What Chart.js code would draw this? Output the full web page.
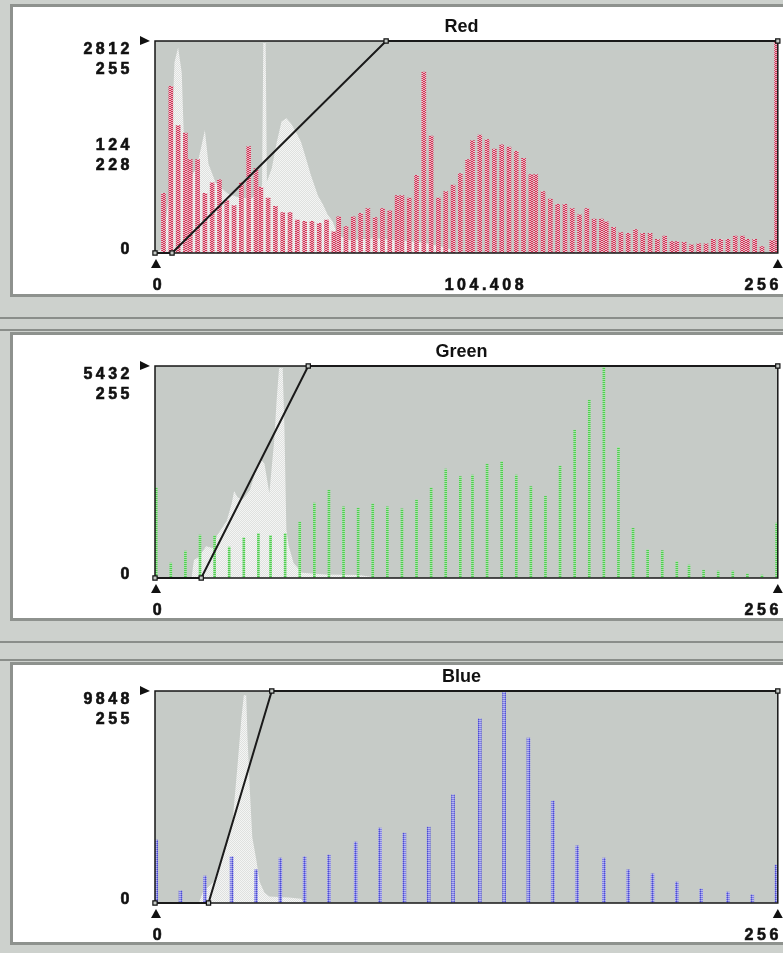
<!DOCTYPE html>
<html>
<head>
<meta charset="utf-8">
<script src="https://cdn.jsdelivr.net/npm/chart.js@4.4.1/dist/chart.umd.min.js"></script>
<style>
  html, body { margin: 0; padding: 0; }
  body { width: 783px; height: 953px; background: #cdd1cd; position: relative; overflow: hidden; }
  .panel { position: absolute; left: 10px; width: 820px; background: #fff; border: 3px solid #8e928e; border-right: none; box-sizing: border-box; }
  .rule { position: absolute; left: 0; width: 783px; height: 2px; background: #8a8e8a; }
  canvas { position: absolute; left: 0; }
</style>
</head>
<body>
<div class="panel" style="top:4px;height:293px"></div>
<div class="rule" style="top:317px"></div>
<div class="rule" style="top:329px"></div>
<div class="panel" style="top:332px;height:289px"></div>
<div class="rule" style="top:641px"></div>
<div class="rule" style="top:659px"></div>
<div class="panel" style="top:662px;height:283px"></div>

<canvas id="red" width="783" height="300" style="top:0"></canvas>
<canvas id="green" width="783" height="290" style="top:330px"></canvas>
<canvas id="blue" width="783" height="298" style="top:655px"></canvas>

<script>
// intensity axis 0..256
const axisLabels = ["0", "256"];

// red channel
const redLevels = [3,6,9,12,14,17,20,23,26,29,32,35,38,41,43,46,49,52,55,58,61,64,67,70,73,75,78,81,84,87,90,93,96,99,101,104,107,110,113,116,119,122,125,128,130,133,136,139,142,145,148,151,154,156,159,162,165,168,171,174,177,180,183,185,188,191,194,197,200,203,206,209,212,214,217,220,223,226,229,232,235,238,241,243,246,249,253,255];
const redCounts = [790,2210,1690,1590,1240,1240,790,930,970,700,630,930,1410,1120,870,730,620,535,535,435,420,420,395,435,280,480,350,480,525,590,470,590,560,760,760,730,1030,2400,1550,730,815,900,1055,1240,1490,1565,1505,1380,1435,1405,1350,1255,1040,1040,815,715,645,645,590,505,590,450,450,415,340,270,260,310,260,260,180,225,150,150,140,110,120,120,180,180,180,225,225,180,180,85,165,2812];
const redGrayLevels = [0,3,6,8,9.5,11,12,14,17,19,20.5,22,25,30,35,40,43,44,44.5,45.5,46,48,50,52,54,56,58,60,62,64,67,69,71,73,75,80,90,100,110,118,125,126];
const redGrayCounts = [0,56,844,2530,2728,2390,1406,984,1125,1406,1630,1180,928,787,731,731,844,900,2784,2784,950,1125,1462,1743,1786,1715,1603,1476,1265,1040,760,647,506,422,240,170,197,170,140,84,14,0];
const redCurveIn = [0, 7, 95, 256];
const redCurveOut = [0, 0, 255, 255];
const redTopLabels = ["2812", "255"];
const redMidLabels = ["124", "228"];
const redMean = "104.408";

// green channel
const greenLevels = [0,6,12,18,24,30,36,42,47,53,59,65,71,77,83,89,95,101,107,113,119,125,130,136,142,148,154,160,166,172,178,184,190,196,202,208,214,219,225,231,237,243,249,255];
const greenCounts = [2310,380,690,1100,1090,790,1030,1140,1090,1140,1430,1920,2250,1825,1790,1900,1825,1770,2000,2310,2790,2600,2640,2920,2980,2640,2340,2090,2870,3790,4560,5432,3350,1270,720,700,420,330,205,180,180,105,75,1410];
const greenGrayLevels = [15,16,18,21,24,25.5,29.5,31.5,32.5,34,36,39,41.5,43.5,45,47,49,50,51,52.5,53.2,54,55,57,60.5,70,84,88,92];
const greenGrayCounts = [0,460,540,815,760,1090,1470,1900,2230,2060,2010,2250,2770,3040,2930,2170,3530,4560,5380,5380,3860,1250,815,380,136,90,76,40,0];
const greenCurveIn = [0, 19, 63, 256];
const greenCurveOut = [0, 0, 255, 255];
const greenTopLabels = ["5432", "255"];

// blue channel
const blueLevels = [0,10,20,31,41,51,61,71,82,92,102,112,122,133,143,153,163,173,184,194,204,214,224,235,245,255];
const blueCounts = [2925,560,1250,2140,1540,2090,2140,2225,2835,3485,3250,3525,5020,8550,9848,7660,4740,2650,2090,1540,1350,975,650,510,375,1760];
const blueGrayLevels = [18,19.6,24,27,29.4,32,34,35.5,36.5,37.5,38,39,40,41.7,43,45,47,55,60,61.5];
const blueGrayCounts = [0,490,980,1970,2660,3940,6500,8570,9650,9650,7780,5220,3050,1970,985,490,300,250,200,0];
const blueCurveIn = [0, 22, 48, 256];
const blueCurveOut = [0, 0, 255, 255];
const blueTopLabels = ["9848", "255"];

// small tiled fills for the dotted look of the bars
function dotPattern(rows) {
  const c = document.createElement("canvas");
  c.width = rows[0].length;
  c.height = rows.length;
  const g = c.getContext("2d");
  rows.forEach((row, j) => row.forEach((col, i) => {
    g.fillStyle = col;
    g.fillRect(i, j, 1, 1);
  }));
  return g.createPattern(c, "repeat");
}

const grayFill = dotPattern([["#f4f5f4", "#dfe1df"], ["#dfe1df", "#f4f5f4"]]);
const redFill = dotPattern([["#eab0bd", "#d03356", "#d03356", "#eab0bd"], ["#d03356", "#f0c8d1", "#f0c8d1", "#d03356"]]);
const greenFill = dotPattern([["#4fcd4f"], ["#a8e6a8"]]);
const blueFill = dotPattern([["#8080e4", "#4c4cd2", "#8080e4"], ["#b8b8ee", "#8080e4", "#b8b8ee"]]);

const zip = (xs, ys) => xs.map((x, i) => ({ x: x, y: ys[i] }));

function triangle(ctx, pts) {
  ctx.beginPath();
  ctx.moveTo(pts[0][0], pts[0][1]);
  ctx.lineTo(pts[1][0], pts[1][1]);
  ctx.lineTo(pts[2][0], pts[2][1]);
  ctx.closePath();
  ctx.fill();
}

// heavy text: fill plus a thin stroke so the digits look like the bitmap font
function boldText(ctx, s, x, y) {
  ctx.fillText(s, x, y);
  ctx.strokeText(s, x, y);
}

// panel decoration: plot background, frame, readouts, markers, title
function panelPlugin(title, max, topLabels, midLabels, mean) {
  return {
    id: "panel",
    beforeDatasetsDraw(chart) {
      const { ctx, chartArea: a } = chart;
      ctx.save();
      ctx.fillStyle = "#c6cbc7";
      ctx.fillRect(a.left, a.top, a.right - a.left, a.bottom - a.top);
      ctx.restore();
    },
    afterDatasetDraw(chart, args) {
      if (args.meta.type !== "bar") return;
      const { ctx, chartArea: a } = chart;
      ctx.save();
      ctx.strokeStyle = "#161616";
      ctx.lineWidth = 1.5;
      ctx.strokeRect(a.left, a.top, a.right - a.left, a.bottom - a.top);
      ctx.restore();
    },
    afterDraw(chart) {
      const { ctx, chartArea: a } = chart;
      const y = chart.scales.y;
      ctx.save();
      ctx.fillStyle = "#111";
      ctx.strokeStyle = "#111";
      ctx.lineWidth = 0.6;

      // title
      ctx.font = "bold 18px 'Liberation Sans', Arial, sans-serif";
      ctx.textAlign = "center";
      ctx.textBaseline = "middle";
      ctx.fillText(title, (a.left + a.right) / 2 - 5, a.top - 14);

      // numeric readouts
      ctx.font = "bold 16px 'Liberation Sans', Arial, sans-serif";
      if ("letterSpacing" in ctx) ctx.letterSpacing = "3.5px";
      ctx.textAlign = "right";
      boldText(ctx, topLabels[0], a.left - 22, y.getPixelForValue(max) + 9);
      boldText(ctx, topLabels[1], a.left - 22, y.getPixelForValue(max) + 29);
      if (midLabels) {
        const m = y.getPixelForValue(max / 2);
        boldText(ctx, midLabels[0], a.left - 22, m - 1);
        boldText(ctx, midLabels[1], a.left - 22, m + 19);
      }
      boldText(ctx, "0", a.left - 22, y.getPixelForValue(0) - 3);

      ctx.textAlign = "center";
      boldText(ctx, axisLabels[0], a.left + 4, a.bottom + 33);
      ctx.textAlign = "right";
      boldText(ctx, axisLabels[1], a.right + 4, a.bottom + 33);
      if (mean) {
        ctx.textAlign = "center";
        boldText(ctx, mean, chart.scales.x.getPixelForValue(136), a.bottom + 33);
      }

      // range markers
      triangle(ctx, [[a.left - 15, a.top - 5], [a.left - 15, a.top + 4], [a.left - 5, a.top]]);
      triangle(ctx, [[a.left + 1, a.bottom + 6], [a.left - 4, a.bottom + 15], [a.left + 6, a.bottom + 15]]);
      triangle(ctx, [[a.right, a.bottom + 6], [a.right - 5, a.bottom + 15], [a.right + 5, a.bottom + 15]]);
      ctx.restore();
    }
  };
}

function histogram(id, levels, counts, max, fill, barWidth, grayLevels, grayCounts, curveIn, curveOut, padding, deco) {
  return new Chart(document.getElementById(id), {
    type: "bar",
    data: {
      datasets: [
        {
          type: "line",
          data: zip(grayLevels, grayCounts),
          backgroundColor: grayFill,
          fill: "origin",
          borderWidth: 0,
          pointRadius: 0,
          tension: 0,
          order: 3
        },
        {
          type: "bar",
          data: zip(levels.map(l => l + 0.5), counts),
          backgroundColor: fill,
          barThickness: barWidth,
          borderWidth: 0,
          order: 2
        },
        {
          type: "line",
          yAxisID: "yCurve",
          data: zip(curveIn, curveOut),
          borderColor: "#1a1a1a",
          borderWidth: 2,
          tension: 0,
          pointStyle: "rect",
          pointRadius: 3,
          pointBackgroundColor: "#c6cbc7",
          pointBorderColor: "#111",
          pointBorderWidth: 1.2,
          clip: false,
          order: 1
        }
      ]
    },
    options: {
      responsive: false,
      animation: false,
      events: [],
      layout: { padding: padding },
      plugins: { legend: { display: false }, tooltip: { enabled: false } },
      scales: {
        x: { type: "linear", min: 0, max: 256, display: false, offset: false },
        y: { min: 0, max: max, display: false },
        yCurve: { min: 0, max: 255, display: false }
      }
    },
    plugins: [deco]
  });
}

histogram("red", redLevels, redCounts, 2812, redFill, 4, redGrayLevels, redGrayCounts,
  redCurveIn, redCurveOut, { left: 155, right: 2, top: 41, bottom: 47 },
  panelPlugin("Red", 2812, redTopLabels, redMidLabels, redMean));

histogram("green", greenLevels, greenCounts, 5432, greenFill, 2, greenGrayLevels, greenGrayCounts,
  greenCurveIn, greenCurveOut, { left: 155, right: 2, top: 36, bottom: 42 },
  panelPlugin("Green", 5432, greenTopLabels, null, null));

histogram("blue", blueLevels, blueCounts, 9848, blueFill, 3, blueGrayLevels, blueGrayCounts,
  blueCurveIn, blueCurveOut, { left: 155, right: 2, top: 36, bottom: 50 },
  panelPlugin("Blue", 9848, blueTopLabels, null, null));
</script>
</body>
</html>
